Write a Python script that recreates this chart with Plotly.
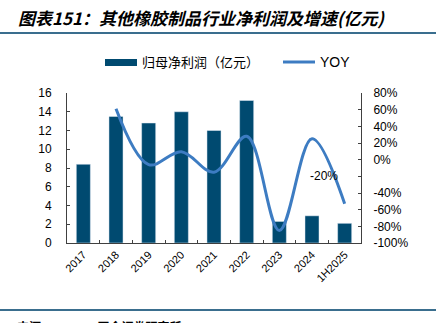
import plotly.graph_objects as go

categories = ["2017", "2018", "2019", "2020", "2021", "2022", "2023", "2024", "1H2025"]
net_profit = [8.4, 13.5, 12.8, 14.0, 12.0, 15.2, 2.3, 2.9, 2.1]
yoy_cats = ["2018", "2019", "2020", "2021", "2022", "2023", "2024", "1H2025"]
yoy = [61, -6, 9.5, -15, 28, -85, 25, -53]
left_ticks = [0, 2, 4, 6, 8, 10, 12, 14, 16]
right_ticks = [80, 60, 40, 20, 0, -20, -40, -60, -80, -100]
right_labels = ["80%", "60%", "40%", "20%", "0%", "", "-40%", "-60%", "-80%", "-100%"]

BAR = "#004a70"
LINE = "#3d7cc2"
RULE = "#3a6e8e"
AX = "#404040"
W, H = 441, 323
L, R, T, B = 67, 361, 93, 243

def px(x):
    return (x - L) / (R - L)

def py(y):
    return (B - y) / (B - T)

fig = go.Figure()
fig.add_trace(go.Bar(x=categories, y=net_profit, marker_color=BAR, width=0.43,
                     name="归母净利润（亿元）", showlegend=False))
fig.add_trace(go.Scatter(x=yoy_cats, y=yoy, yaxis="y2", mode="lines",
                         line=dict(color=LINE, width=3, shape="spline", smoothing=1.0),
                         name="YOY", showlegend=False))

tickfont = dict(family="Liberation Sans, Arial", size=12, color="#000000")
fig.update_layout(
    width=W, height=H,
    margin=dict(l=L, r=W - R, t=T, b=H - B, pad=0),
    paper_bgcolor="white", plot_bgcolor="white",
    showlegend=False,
    xaxis=dict(type="category", categoryorder="array", categoryarray=categories,
               showline=True, linecolor=AX, linewidth=1, mirror=False,
               ticks="inside", ticklen=3, tickcolor=AX, tickson="boundaries",
               tickangle=-45, tickfont=dict(family="Liberation Sans, Arial", size=11, color="#000"),
               showgrid=False, zeroline=False, range=[-0.5, 8.5]),
    yaxis=dict(range=[0, 16], tickvals=left_ticks, showline=True, linecolor=AX, linewidth=1,
               ticks="inside", ticklen=3, tickcolor=AX, tickfont=tickfont,
               ticklabelstandoff=12, showgrid=False, zeroline=False),
    yaxis2=dict(range=[-100, 80], overlaying="y", side="right", tickvals=right_ticks,
                ticktext=right_labels, showline=True, linecolor=AX, linewidth=1,
                ticks="inside", ticklen=3, tickcolor=AX, tickfont=tickfont,
                ticklabelstandoff=9, showgrid=False, zeroline=False),
)

shapes = [
    dict(type="line", xref="paper", yref="paper", x0=px(0), x1=px(436), y0=py(33), y1=py(33),
         line=dict(color=RULE, width=2)),
    dict(type="line", xref="paper", yref="paper", x0=px(0), x1=px(436), y0=py(310), y1=py(310),
         line=dict(color=RULE, width=2)),
    dict(type="rect", xref="paper", yref="paper", x0=px(105), x1=px(137), y0=py(66), y1=py(59),
         fillcolor=BAR, line=dict(width=0)),
    dict(type="line", xref="paper", yref="paper", x0=px(283), x1=px(315), y0=py(62), y1=py(62),
         line=dict(color=LINE, width=3)),
]
fig.update_layout(shapes=shapes)

annotations = [
    dict(text="<b><i>图表151：其他橡胶制品行业净利润及增速(亿元)</i></b>", xref="paper", yref="paper",
         x=px(16), y=py(17), xanchor="left", yanchor="middle", showarrow=False,
         font=dict(family="Noto Sans CJK SC", size=17, color="#000")),
    dict(text="归母净利润（亿元）", xref="paper", yref="paper", x=px(140), y=py(62),
         xanchor="left", yanchor="middle", showarrow=False,
         font=dict(family="Noto Sans CJK SC", size=13, color="#000")),
    dict(text="YOY", xref="paper", yref="paper", x=px(318), y=py(62),
         xanchor="left", yanchor="middle", showarrow=False,
         font=dict(family="Liberation Sans, Arial", size=14, color="#000")),
    dict(text="-20%", xref="paper", yref="y2", x=px(324), y=-20,
         xanchor="center", yanchor="middle", showarrow=False,
         font=dict(family="Liberation Sans, Arial", size=12, color="#000")),
    dict(text="<b>来源：WIND，国金证券研究所</b>", xref="paper", yref="paper", x=px(15), y=py(316),
         xanchor="left", yanchor="top", showarrow=False,
         font=dict(family="Noto Sans CJK SC", size=12, color="#000")),
]
fig.update_layout(annotations=annotations)

fig.write_html("out.html")
